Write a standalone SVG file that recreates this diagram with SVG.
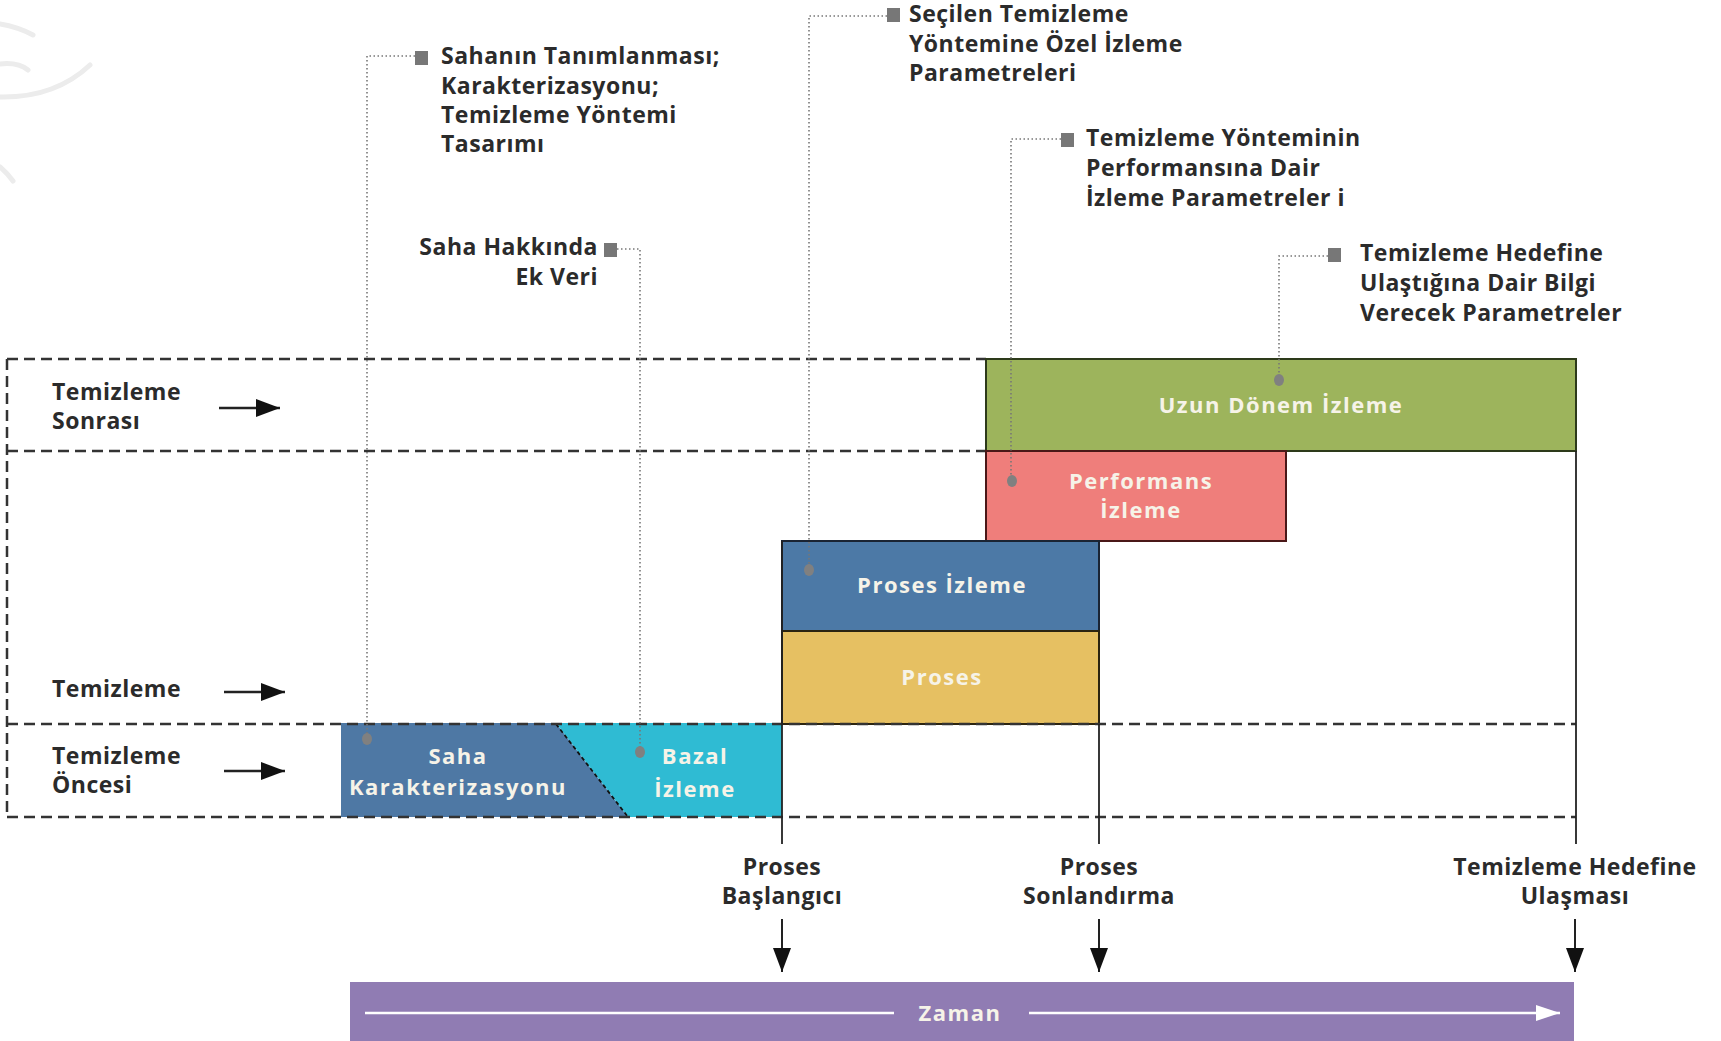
<svg xmlns="http://www.w3.org/2000/svg" width="1721" height="1041" viewBox="0 0 1721 1041">
<style>
text{font-family:"Open Sans","Liberation Sans",sans-serif;font-weight:700}
.t{font-size:23px;fill:#2b2b2b;letter-spacing:0.5px}
.b{font-size:22px;fill:#f6f3e8;text-anchor:middle;letter-spacing:1.5px}
.c{text-anchor:middle}
.e{text-anchor:end}
.dash{stroke:#333;stroke-width:2.5;stroke-dasharray:11 6;fill:none}
.dot{stroke:#777;stroke-width:1.6;stroke-dasharray:1.5 2.5;fill:none}
.sq{fill:#777}
.pin{fill:#808080}
.solid{stroke:#222;stroke-width:1.8;fill:none}
.wm{stroke:#ececec;stroke-width:5;fill:none;stroke-linecap:round}
</style>
<defs>
<marker id="ah" viewBox="0 0 10 10" refX="10" refY="5" markerWidth="24" markerHeight="18" markerUnits="userSpaceOnUse" orient="auto" preserveAspectRatio="none">
<path d="M0,0 L10,5 L0,10 Z" fill="#111"/>
</marker>
<marker id="ahw" viewBox="0 0 10 10" refX="10" refY="5" markerWidth="24" markerHeight="16" markerUnits="userSpaceOnUse" orient="auto" preserveAspectRatio="none">
<path d="M0,0 L10,5 L0,10 Z" fill="#fff"/>
</marker>
</defs>
<rect width="1721" height="1041" fill="#fff"/>
<g id="watermark">
<path class="wm" d="M0,24 Q18,27 33,35"/>
<path class="wm" d="M0,64 Q18,62 28,70"/>
<path class="wm" d="M0,97 Q55,98 90,65"/>
<path class="wm" d="M0,167 Q8,174 13,181"/>
</g>
<g id="grid">
<line class="dash" x1="7" y1="359" x2="986" y2="359"/>
<line class="dash" x1="7" y1="451" x2="986" y2="451"/>
<line class="dash" x1="7" y1="359" x2="7" y2="817"/>
</g>
<g id="node-uzun">
<rect x="986" y="359" width="590" height="92" fill="#9db45c" stroke="#2d3a1a" stroke-width="2"/>
<text class="b" x="1281" y="413">Uzun Dönem İzleme</text>
</g>
<g id="node-performans">
<rect x="986" y="451" width="300" height="90" fill="#ef7e7b" stroke="#4a1818" stroke-width="2"/>
<text class="b" x="1141" y="489">Performans</text>
<text class="b" x="1141" y="518">İzleme</text>
</g>
<g id="node-proses-izleme">
<rect x="782" y="541" width="317" height="90" fill="#4c79a6" stroke="#1a2433" stroke-width="2"/>
<text class="b" x="942" y="593">Proses İzleme</text>
</g>
<g id="node-proses">
<rect x="782" y="631" width="317" height="93" fill="#e6c062" stroke="#2b2410" stroke-width="2"/>
<text class="b" x="942" y="685">Proses</text>
</g>
<g id="node-saha">
<polygon points="341,723 556,723 628,817 341,817" fill="#4e78a4"/>
<text class="b" x="458" y="764">Saha</text>
<text class="b" x="458" y="795">Karakterizasyonu</text>
</g>
<g id="node-bazal">
<polygon points="556,723 782,723 782,817 628,817" fill="#2fbbd3"/>
<line x1="556" y1="724" x2="628" y2="817" stroke="#111" stroke-width="1.8" stroke-dasharray="4 3"/>
<text class="b" x="695" y="764">Bazal</text>
<text class="b" x="695" y="797">İzleme</text>
</g>
<g id="grid-front">
<line class="dash" x1="7" y1="724" x2="1576" y2="724"/>
<line class="dash" x1="7" y1="817" x2="1576" y2="817"/>
</g>
<g id="rows">
<text class="t" x="52" y="400">Temizleme</text>
<text class="t" x="52" y="429">Sonrası</text>
<text class="t" x="52" y="697">Temizleme</text>
<text class="t" x="52" y="764">Temizleme</text>
<text class="t" x="52" y="793">Öncesi</text>
</g>
<g id="milestones">
<text class="t c" x="782" y="875">Proses</text>
<text class="t c" x="782" y="904">Başlangıcı</text>
<text class="t c" x="1099" y="875">Proses</text>
<text class="t c" x="1099" y="904">Sonlandırma</text>
<text class="t c" x="1575" y="875">Temizleme Hedefine</text>
<text class="t c" x="1575" y="904">Ulaşması</text>
</g>
<g id="callout-1">
<rect class="sq" x="415" y="51" width="13" height="14"/>
<text class="t" x="441" y="64">Sahanın Tanımlanması;</text>
<text class="t" x="441" y="94">Karakterizasyonu;</text>
<text class="t" x="441" y="123">Temizleme Yöntemi</text>
<text class="t" x="441" y="152">Tasarımı</text>
</g>
<g id="callout-2">
<rect class="sq" x="604" y="243" width="13" height="14"/>
<text class="t e" x="598" y="255">Saha Hakkında</text>
<text class="t e" x="598" y="285">Ek Veri</text>
</g>
<g id="callout-3">
<rect class="sq" x="887" y="8" width="13" height="14"/>
<text class="t" x="909" y="22">Seçilen Temizleme</text>
<text class="t" x="909" y="52">Yöntemine Özel İzleme</text>
<text class="t" x="909" y="81">Parametreleri</text>
</g>
<g id="callout-4">
<rect class="sq" x="1061" y="133" width="13" height="14"/>
<text class="t" x="1086" y="146">Temizleme Yönteminin</text>
<text class="t" x="1086" y="176">Performansına Dair</text>
<text class="t" x="1086" y="206">İzleme Parametreler i</text>
</g>
<g id="callout-5">
<rect class="sq" x="1328" y="248" width="13" height="14"/>
<text class="t" x="1360" y="261">Temizleme Hedefine</text>
<text class="t" x="1360" y="291">Ulaştığına Dair Bilgi</text>
<text class="t" x="1360" y="321">Verecek Parametreler</text>
</g>
<g id="zaman">
<rect x="350" y="982" width="1224" height="59" fill="#907cb3"/>
<line x1="365" y1="1013" x2="894" y2="1013" stroke="#fff" stroke-width="2.5"/>
<line x1="1029" y1="1013" x2="1560" y2="1013" stroke="#fff" stroke-width="2.5" marker-end="url(#ahw)"/>
<text class="b" x="960" y="1021">Zaman</text>
</g>
<g id="connectors">
<path class="dot" d="M415,56 H367 V739"/>
<path class="dot" d="M617,249 H640 V752"/>
<path class="dot" d="M887,16 H809 V570"/>
<path class="dot" d="M1061,139 H1011 V481"/>
<path class="dot" d="M1328,256 H1279 V380"/>
<ellipse class="pin" cx="367" cy="739" rx="5" ry="6"/>
<ellipse class="pin" cx="640" cy="752" rx="5" ry="6"/>
<ellipse class="pin" cx="809" cy="570" rx="5" ry="6"/>
<ellipse class="pin" cx="1012" cy="481" rx="5" ry="6"/>
<ellipse class="pin" cx="1279" cy="380" rx="5" ry="6"/>
<line class="solid" x1="782" y1="541" x2="782" y2="844"/>
<line class="solid" x1="1099" y1="724" x2="1099" y2="844"/>
<line class="solid" x1="1576" y1="451" x2="1576" y2="844"/>
<line class="solid" x1="782" y1="919" x2="782" y2="972" marker-end="url(#ah)" style="stroke-width:2"/>
<line class="solid" x1="1099" y1="919" x2="1099" y2="972" marker-end="url(#ah)" style="stroke-width:2"/>
<line class="solid" x1="1575" y1="919" x2="1575" y2="972" marker-end="url(#ah)" style="stroke-width:2"/>
<line class="solid" x1="219" y1="408" x2="280" y2="408" marker-end="url(#ah)" style="stroke-width:2.5"/>
<line class="solid" x1="224" y1="692" x2="285" y2="692" marker-end="url(#ah)" style="stroke-width:2.5"/>
<line class="solid" x1="224" y1="771" x2="285" y2="771" marker-end="url(#ah)" style="stroke-width:2.5"/>
</g>
</svg>
